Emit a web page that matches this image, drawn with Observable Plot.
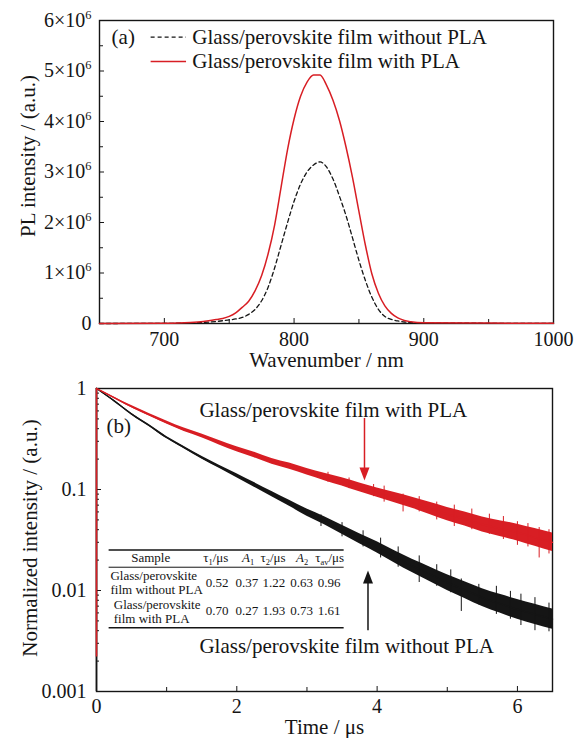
<!DOCTYPE html>
<html>
<head>
<meta charset="utf-8">
<script src="https://cdn.jsdelivr.net/npm/d3@7"></script>
<script src="https://cdn.jsdelivr.net/npm/@observablehq/plot@0.6"></script>
<style>
  html, body { margin: 0; padding: 0; background: #fff; }
  #chart { width: 584px; height: 738px; }
  #chart svg { display: block; overflow: visible; }
  #chart svg, #chart svg text, #chart svg tspan { font-family: "Liberation Serif", "Times New Roman", serif !important; }
</style>
</head>
<body>
<div id="chart"></div>
<script>
// ---------- Panel (a): PL spectra (intensity in units of 10^6) ----------
const wavelength = [650, 700, 720, 730, 740, 745, 750, 755, 760, 765, 770, 775, 780, 785, 790, 795, 800, 805, 810, 815, 820, 825, 830, 835, 840, 845, 850, 855, 860, 865, 870, 875, 880, 885, 890, 900, 950, 1000];
const plWithPLA = [0, 0.005, 0.02, 0.04, 0.08, 0.1, 0.14, 0.21, 0.32, 0.44, 0.65, 0.95, 1.38, 1.95, 2.7, 3.45, 4.05, 4.5, 4.78, 4.92, 4.92, 4.72, 4.42, 4.02, 3.5, 2.9, 2.22, 1.55, 0.98, 0.6, 0.35, 0.2, 0.11, 0.06, 0.035, 0.015, 0.008, 0.005];
const plWithoutPLA = [0, 0.003, 0.01, 0.02, 0.04, 0.055, 0.07, 0.09, 0.12, 0.18, 0.28, 0.45, 0.72, 1.1, 1.55, 2.0, 2.42, 2.76, 3.0, 3.14, 3.2, 3.1, 2.86, 2.52, 2.14, 1.7, 1.25, 0.85, 0.52, 0.28, 0.14, 0.08, 0.05, 0.03, 0.02, 0.01, 0.004, 0.002];
const legendLabels = ["Glass/perovskite film without PLA", "Glass/perovskite film with PLA"];
const xTicksA = [700, 800, 900, 1000];
const xMinorA = [750, 850, 950];
const yTicksA = [0, 1, 2, 3, 4, 5, 6];
const yMinorA = [0.5, 1.5, 2.5, 3.5, 4.5, 5.5];

// ---------- Panel (b): TRPL decay ----------
const decayTime = [0, 0.25, 0.5, 0.75, 1, 1.25, 1.5, 1.75, 2, 2.25, 2.5, 2.75, 3, 3.25, 3.5, 3.75, 4, 4.25, 4.5, 4.75, 5, 5.25, 5.5, 5.75, 6, 6.25, 6.5];
const decayWithPLA = [1.0, 0.81, 0.66, 0.55, 0.46, 0.39, 0.34, 0.29, 0.25, 0.22, 0.19, 0.17, 0.15, 0.133, 0.119, 0.105, 0.093, 0.083, 0.074, 0.065, 0.057, 0.051, 0.045, 0.041, 0.0375, 0.0335, 0.030];
const noiseWithPLA = [0.005, 0.008, 0.011, 0.013, 0.015, 0.017, 0.019, 0.022, 0.025, 0.027, 0.029, 0.031, 0.033, 0.036, 0.04, 0.043, 0.046, 0.05, 0.055, 0.06, 0.066, 0.07, 0.075, 0.079, 0.083, 0.088, 0.092];
const decayWithoutPLA = [1.0, 0.755, 0.557, 0.43, 0.327, 0.26, 0.207, 0.168, 0.137, 0.111, 0.090, 0.073, 0.059, 0.049, 0.040, 0.0325, 0.0267, 0.0215, 0.0175, 0.0145, 0.012, 0.0101, 0.0085, 0.0074, 0.0065, 0.0058, 0.0052];
const noiseWithoutPLA = [0.005, 0.007, 0.008, 0.009, 0.01, 0.012, 0.014, 0.016, 0.02, 0.023, 0.026, 0.03, 0.035, 0.04, 0.045, 0.05, 0.055, 0.06, 0.066, 0.072, 0.078, 0.083, 0.088, 0.093, 0.098, 0.1, 0.1];
// noise spikes: [time, low, high]
const spikeWithPLA = [[3.3, 0.118, 0.148], [3.6, 0.102, 0.13], [3.95, 0.085, 0.112], [4.1, 0.075, 0.108], [4.37, 0.06, 0.09], [4.6, 0.06, 0.085], [4.85, 0.05, 0.075], [5.1, 0.043, 0.07], [5.35, 0.04, 0.064], [5.6, 0.036, 0.057], [5.8, 0.032, 0.054], [6.0, 0.028, 0.048], [6.15, 0.027, 0.046], [6.31, 0.021, 0.042], [6.45, 0.023, 0.04]];
const spikeWithoutPLA = [[3.2, 0.043, 0.056], [3.5, 0.034, 0.047], [3.8, 0.027, 0.039], [4.05, 0.021, 0.033], [4.3, 0.017, 0.027], [4.6, 0.012, 0.022], [4.85, 0.011, 0.018], [5.05, 0.0095, 0.016], [5.2, 0.0062, 0.013], [5.45, 0.0072, 0.0115], [5.7, 0.0058, 0.011], [5.9, 0.0052, 0.0098], [6.05, 0.0045, 0.0092], [6.25, 0.004, 0.0085], [6.45, 0.0039, 0.0075]];
const riseWithPLA = [0.0022, 1];
const riseWithoutPLA = [0.001, 1];
const xTicksB = [0, 2, 4, 6];
const xMinorB = [1, 3, 5];
const yTicksB = [0.001, 0.01, 0.1, 1];
const yMinorB = [0.01, 0.1, 1].flatMap(d => [2, 3, 4, 5, 6, 7, 8, 9].map(k => +(k * d / 10).toPrecision(2)));

// ---------- Inset table ----------
const tableHeader = ["Sample", "τ_{1}/μs", "*{A}_{1}", "τ_{2}/μs", "*{A}_{2}", "τ_{av}/μs"];
const tableSamples = ["Glass/perovskite\nfilm without PLA", "Glass/perovskite\nfilm with PLA"];
const tableValues = [["0.52", "0.37", "1.22", "0.63", "0.96"], ["0.70", "0.27", "1.93", "0.73", "1.61"]];

// ---------- styling ----------
const FONT = "Liberation Serif";
const RED = "#d81e24";
const INK = "#151515";

const specA = wavelength.map((w, i) => ({w, without: plWithoutPLA[i], with: plWithPLA[i]}));
const decay = decayTime.map((t, i) => ({
  t,
  rc: decayWithPLA[i], rlo: decayWithPLA[i] / 10 ** noiseWithPLA[i], rhi: decayWithPLA[i] * 10 ** noiseWithPLA[i],
  bc: decayWithoutPLA[i], blo: decayWithoutPLA[i] / 10 ** noiseWithoutPLA[i], bhi: decayWithoutPLA[i] * 10 ** noiseWithoutPLA[i]
}));

const headDown = {draw(ctx) { ctx.moveTo(0, 0); ctx.lineTo(-5, -13); ctx.lineTo(5, -13); ctx.closePath(); }};
const headUp = {draw(ctx) { ctx.moveTo(0, 0); ctx.lineTo(-5, 13); ctx.lineTo(5, 13); ctx.closePath(); }};

const A = {w: 584, h: 370, ml: 99, mr: 31, mt: 20, mb: 47};
const B = {w: 584, h: 368, ml: 96, mr: 32, mt: 18, mb: 47};
const innerH = p => p.h - p.mt - p.mb;
const innerW = p => p.w - p.ml - p.mr;

const plotA = Plot.plot({
  width: A.w, height: A.h, marginLeft: A.ml, marginRight: A.mr, marginTop: A.mt, marginBottom: A.mb,
  style: {fontFamily: FONT, fontSize: "20px", background: "white", color: INK},
  x: {domain: [650, 1000]},
  y: {domain: [0, 6]},
  marks: [
    Plot.frame({stroke: INK, strokeWidth: 1.4}),
    Plot.tickX(xTicksA, {x: d => d, insetTop: innerH(A) - 5, stroke: INK, strokeWidth: 1}),
    Plot.tickX(xMinorA, {x: d => d, insetTop: innerH(A) - 4, stroke: INK, strokeWidth: 1}),
    Plot.tickY(yTicksA, {y: d => d, insetRight: innerW(A) - 5, stroke: INK, strokeWidth: 1}),
    Plot.tickY(yMinorA, {y: d => d, insetRight: innerW(A) - 4, stroke: INK, strokeWidth: 1}),
    Plot.axisX({ticks: xTicksA, tickSize: 0, tickPadding: 8, tickFormat: d => String(d), label: null, fontSize: 20}),
    Plot.axisY({ticks: yTicksA, tickSize: 0, tickPadding: 8, tickFormat: d => d === 0 ? "0" : `${d}×10^{6}`, label: null, fontSize: 20}),
    Plot.lineY(specA, {x: "w", y: "without", stroke: INK, strokeWidth: 1.3, strokeDasharray: "4,3", curve: "monotone-x"}),
    Plot.lineY(specA, {x: "w", y: "with", stroke: RED, strokeWidth: 1.5, curve: "monotone-x"}),
    // legend
    Plot.ruleY([5.67], {x1: 689.8, x2: 717.1, stroke: INK, strokeWidth: 1.3, strokeDasharray: "4,3"}),
    Plot.ruleY([5.19], {x1: 689.8, x2: 717.1, stroke: RED, strokeWidth: 1.5}),
    Plot.text(["(a)"], {x: 659.3, y: 5.67, text: d => d, textAnchor: "start", fontSize: 21, fill: INK}),
    Plot.text(legendLabels, {x: 721.5, y: (d, i) => i === 0 ? 5.67 : 5.2, text: d => d, textAnchor: "start", fontSize: 21, fill: INK}),
    // axis titles
    Plot.text(["Wavenumber / nm"], {frameAnchor: "bottom", dy: 37, text: d => d, textAnchor: "middle", lineAnchor: "middle", fontSize: 21, fill: INK}),
    Plot.text(["PL intensity / (a.u.)"], {frameAnchor: "left", dx: -71, dy: -16, rotate: -90, text: d => d, textAnchor: "middle", lineAnchor: "middle", fontSize: 21, fill: INK})
  ]
});

const plotB = Plot.plot({
  width: B.w, height: B.h, marginLeft: B.ml, marginRight: B.mr, marginTop: B.mt, marginBottom: B.mb,
  style: {fontFamily: FONT, fontSize: "20px", background: "white", color: INK},
  x: {domain: [0, 6.5]},
  y: {type: "log", domain: [0.001, 1]},
  marks: [
    Plot.frame({stroke: INK, strokeWidth: 1.4}),
    Plot.tickX(xTicksB, {x: d => d, insetTop: innerH(B) - 5, stroke: INK, strokeWidth: 1}),
    Plot.tickX(xMinorB, {x: d => d, insetTop: innerH(B) - 4, stroke: INK, strokeWidth: 1}),
    Plot.tickY(yTicksB, {y: d => d, insetRight: innerW(B) - 5, stroke: INK, strokeWidth: 1}),
    Plot.tickY(yMinorB, {y: d => d, insetRight: innerW(B) - 3, stroke: INK, strokeWidth: 1}),
    Plot.axisX({ticks: xTicksB, tickSize: 0, tickPadding: 7, tickFormat: d => String(d), label: null, fontSize: 20}),
    Plot.axisY({ticks: yTicksB, tickSize: 0, tickPadding: 10, tickFormat: d => String(d), label: null, fontSize: 20}),
    // decay without PLA (black)
    Plot.ruleX([0], {y1: riseWithoutPLA[0], y2: riseWithoutPLA[1], stroke: INK, strokeWidth: 1.6}),
    Plot.areaY(decay, {x: "t", y1: "blo", y2: "bhi", fill: INK, curve: "monotone-x"}),
    Plot.lineY(decay, {x: "t", y: "bc", stroke: INK, strokeWidth: 1.4, curve: "monotone-x"}),
    Plot.ruleX(spikeWithoutPLA, {x: d => d[0], y1: d => d[1], y2: d => d[2], stroke: INK, strokeWidth: 1}),
    // decay with PLA (red)
    Plot.ruleX([0], {y1: riseWithPLA[0], y2: riseWithPLA[1], stroke: RED, strokeWidth: 1.6}),
    Plot.areaY(decay, {x: "t", y1: "rlo", y2: "rhi", fill: RED, curve: "monotone-x"}),
    Plot.lineY(decay, {x: "t", y: "rc", stroke: RED, strokeWidth: 1.4, curve: "monotone-x"}),
    Plot.ruleX(spikeWithPLA, {x: d => d[0], y1: d => d[1], y2: d => d[2], stroke: RED, strokeWidth: 1}),
    // annotations
    Plot.text(["(b)"], {x: 0.142, y: 0.42, text: d => d, textAnchor: "start", fontSize: 21, fill: INK}),
    Plot.text([legendLabels[1]], {x: 1.467, y: 0.615, text: d => d, textAnchor: "start", fontSize: 21, fill: INK}),
    Plot.text([legendLabels[0]], {x: 1.467, y: 0.00279, text: d => d, textAnchor: "start", fontSize: 21, fill: INK}),
    Plot.ruleX([3.82], {y1: 0.505, y2: 0.15, stroke: RED, strokeWidth: 1.5}),
    Plot.dot([3.82], {x: d => d, y: 0.123, symbol: headDown, r: 5, fill: RED, stroke: "none"}),
    Plot.ruleX([3.87], {y1: 0.004, y2: 0.013, stroke: INK, strokeWidth: 1.5}),
    Plot.dot([3.87], {x: d => d, y: 0.0158, symbol: headUp, r: 5, fill: INK, stroke: "none"}),
    // inset table
    Plot.ruleY([0.0252, 0.00427], {x1: 0.18, x2: 3.53, stroke: INK, strokeWidth: 1.5}),
    Plot.ruleY([0.0170], {x1: 0.18, x2: 3.53, stroke: INK, strokeWidth: 1}),
    Plot.text(tableHeader, {x: (d, i) => [0.773, 1.70, 2.161, 2.517, 2.93, 3.323][i], y: 0.0210, text: d => d, fontSize: 13, fill: INK}),
    Plot.text(tableSamples, {x: (d, i) => [0.199, 0.246][i], y: (d, i) => [0.0120, 0.00622][i], text: d => d, textAnchor: "start", lineHeight: 1.1, fontSize: 13, fill: INK}),
    Plot.text(tableValues.flatMap((row, r) => row.map((v, c) => ({v, r, c}))), {
      x: d => [1.72, 2.145, 2.53, 2.925, 3.315][d.c], y: d => [0.0120, 0.00622][d.r], text: "v", fontSize: 13, fill: INK}),
    // axis titles
    Plot.text(["Time / μs"], {frameAnchor: "bottom", dy: 36, text: d => d, textAnchor: "middle", lineAnchor: "middle", fontSize: 21, fill: INK}),
    Plot.text(["Normalized intensity / (a.u.)"], {frameAnchor: "left", dx: -66, dy: -2, rotate: -90, text: d => d, textAnchor: "middle", lineAnchor: "middle", fontSize: 21, fill: INK})
  ]
});

const host = document.getElementById("chart");
host.appendChild(plotA);
host.appendChild(plotB);

// rich text: ^{sup}, _{sub}, *{italic}
function richify(root) {
  const NS = "http://www.w3.org/2000/svg";
  root.querySelectorAll("text, tspan").forEach(el => {
    if (el.children.length) return;
    const s = el.textContent;
    if (!/[\^_*]\{/.test(s)) return;
    const fs = parseFloat(getComputedStyle(el).fontSize) || 20;
    el.textContent = "";
    let shift = 0;
    const add = (str, mode) => {
      const t = document.createElementNS(NS, "tspan");
      t.textContent = str;
      let target = 0;
      if (mode === "^") { t.setAttribute("font-size", (fs * 0.62).toFixed(2)); target = -0.42 * fs; }
      else if (mode === "_") { t.setAttribute("font-size", (fs * 0.65).toFixed(2)); target = 0.22 * fs; }
      else if (mode === "*") { t.setAttribute("font-style", "italic"); }
      const d = target - shift;
      if (Math.abs(d) > 1e-6) t.setAttribute("dy", d.toFixed(2));
      shift = target;
      el.appendChild(t);
    };
    const re = /([\^_*])\{([^}]*)\}/g;
    let last = 0, m;
    while ((m = re.exec(s))) {
      if (m.index > last) add(s.slice(last, m.index), "");
      add(m[2], m[1]);
      last = re.lastIndex;
    }
    if (last < s.length) add(s.slice(last), "");
  });
}
richify(host);
</script>
</body>
</html>
